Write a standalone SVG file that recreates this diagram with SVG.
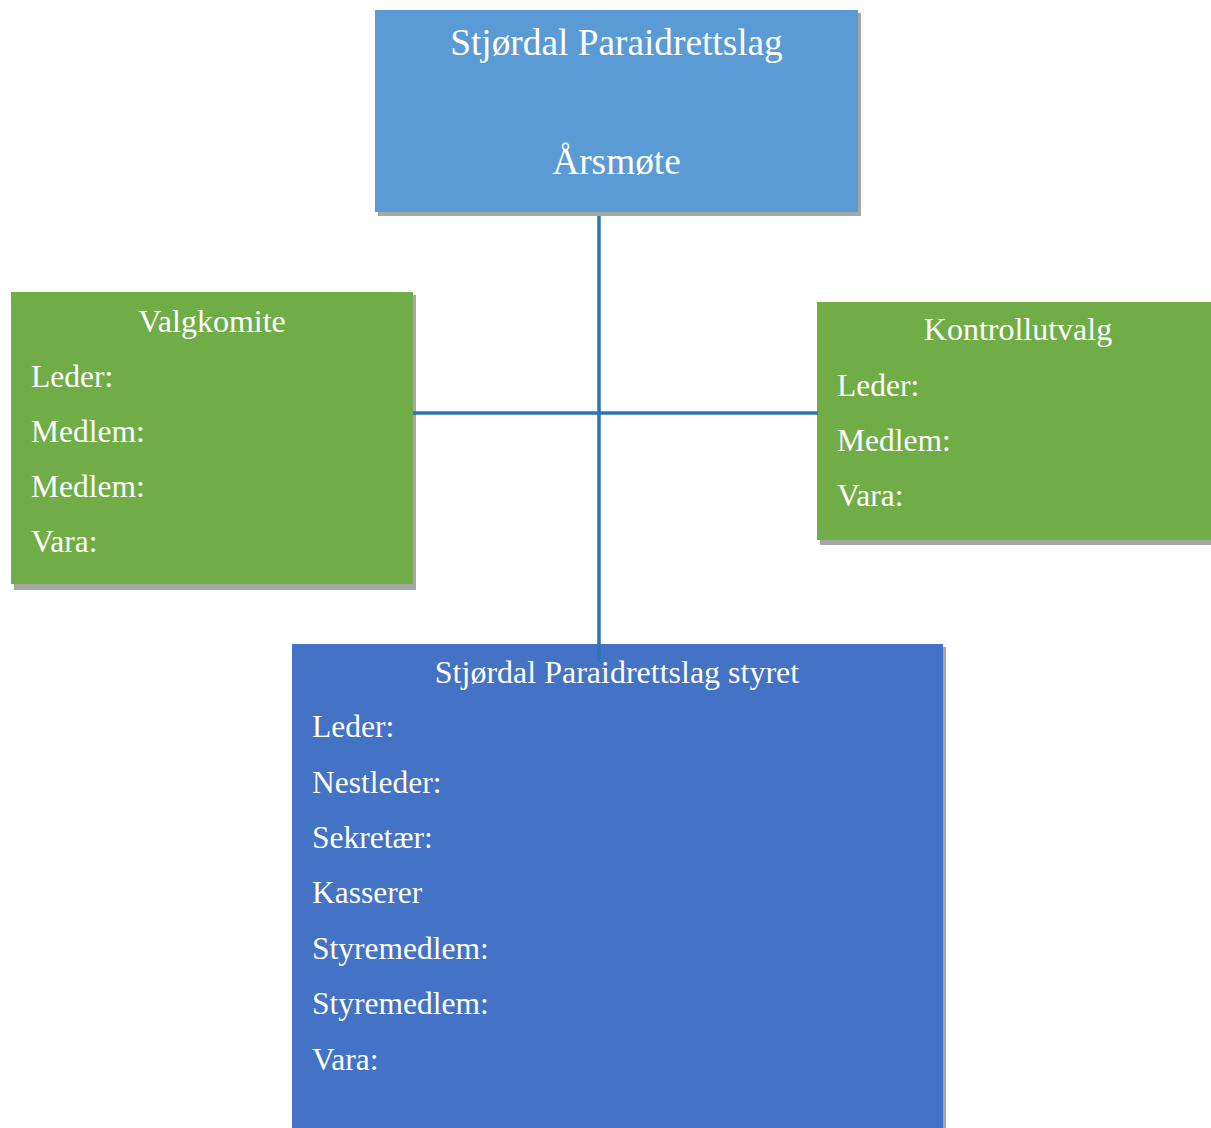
<svg xmlns="http://www.w3.org/2000/svg" width="1211" height="1128" viewBox="0 0 1211 1128">
<style>
.shadow{fill:#a2a9a4}
.t{font-family:"Liberation Serif","Times New Roman",serif;fill:#ffffff}
.h{font-size:32px;text-anchor:middle}
.i{font-size:31.5px}
.conn{stroke:#2E75B6;stroke-width:3.5;fill:none}
</style>
<rect width="1211" height="1128" fill="#ffffff"/>
<g id="arsmote">
<rect class="shadow" x="378" y="13" width="483" height="203"/>
<rect x="375" y="10" width="483" height="202" fill="#5B9BD5"/>
<text class="t" x="616.5" y="55" font-size="37.3" text-anchor="middle">Stjørdal Paraidrettslag</text>
<text class="t" x="616.5" y="174" font-size="37.3" text-anchor="middle">Årsmøte</text>
</g>
<g id="valgkomite">
<rect class="shadow" x="14" y="295" width="402" height="295"/>
<rect x="11" y="292" width="402" height="292" fill="#70AD47"/>
<text class="t h" x="212" y="332">Valgkomite</text>
<text class="t i" x="31" y="387">Leder:</text>
<text class="t i" x="31" y="442">Medlem:</text>
<text class="t i" x="31" y="497">Medlem:</text>
<text class="t i" x="31" y="552">Vara:</text>
</g>
<g id="kontrollutvalg">
<rect class="shadow" x="820" y="305" width="394" height="240"/>
<rect x="817" y="302" width="400" height="238" fill="#70AD47"/>
<text class="t h" x="1018" y="340">Kontrollutvalg</text>
<text class="t i" x="837" y="396">Leder:</text>
<text class="t i" x="837" y="451">Medlem:</text>
<text class="t i" x="837" y="506">Vara:</text>
</g>
<g id="styret">
<rect class="shadow" x="295" y="647" width="651" height="484"/>
<rect x="292" y="644" width="651" height="484" fill="#4472C4"/>
<text class="t h" x="617" y="683">Stjørdal Paraidrettslag styret</text>
<text class="t i" x="312" y="737">Leder:</text>
<text class="t i" x="312" y="793">Nestleder:</text>
<text class="t i" x="312" y="848">Sekretær:</text>
<text class="t i" x="312" y="903">Kasserer</text>
<text class="t i" x="312" y="959">Styremedlem:</text>
<text class="t i" x="312" y="1014">Styremedlem:</text>
<text class="t i" x="312" y="1070">Vara:</text>
</g>
<g id="connectors">
<line class="conn" x1="599" y1="216" x2="599" y2="663"/>
<line class="conn" x1="413" y1="413" x2="818" y2="413"/>
</g>
</svg>
